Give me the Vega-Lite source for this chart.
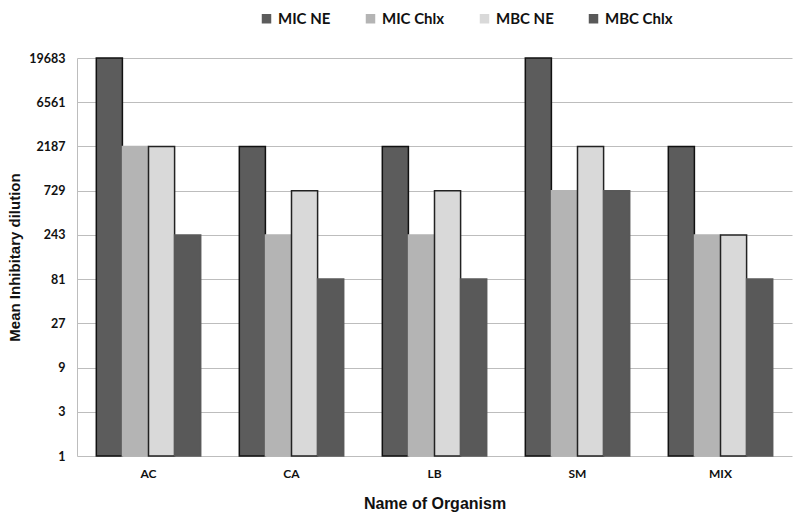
{
  "$schema": "https://vega.github.io/schema/vega-lite/v6.json",
  "width": 715,
  "height": 398,
  "padding": {"left": 7, "top": 11, "right": 5, "bottom": 5},
  "background": "white",
  "data": {
    "values": [
      {"organism": "AC", "series": "MIC NE", "value": 19683},
      {"organism": "AC", "series": "MIC Chlx", "value": 2187},
      {"organism": "AC", "series": "MBC NE", "value": 2187},
      {"organism": "AC", "series": "MBC Chlx", "value": 243},
      {"organism": "CA", "series": "MIC NE", "value": 2187},
      {"organism": "CA", "series": "MIC Chlx", "value": 243},
      {"organism": "CA", "series": "MBC NE", "value": 729},
      {"organism": "CA", "series": "MBC Chlx", "value": 81},
      {"organism": "LB", "series": "MIC NE", "value": 2187},
      {"organism": "LB", "series": "MIC Chlx", "value": 243},
      {"organism": "LB", "series": "MBC NE", "value": 729},
      {"organism": "LB", "series": "MBC Chlx", "value": 81},
      {"organism": "SM", "series": "MIC NE", "value": 19683},
      {"organism": "SM", "series": "MIC Chlx", "value": 729},
      {"organism": "SM", "series": "MBC NE", "value": 2187},
      {"organism": "SM", "series": "MBC Chlx", "value": 729},
      {"organism": "MIX", "series": "MIC NE", "value": 2187},
      {"organism": "MIX", "series": "MIC Chlx", "value": 243},
      {"organism": "MIX", "series": "MBC NE", "value": 243},
      {"organism": "MIX", "series": "MBC Chlx", "value": 81}
    ]
  },
  "mark": {"type": "bar", "strokeWidth": 1.5},
  "encoding": {
    "x": {
      "field": "organism",
      "type": "nominal",
      "sort": ["AC", "CA", "LB", "SM", "MIX"],
      "scale": {"paddingInner": 0.27, "paddingOuter": 0.135},
      "axis": {
        "title": "Name of Organism",
        "titleFont": "Liberation Sans",
        "titleFontSize": 16,
        "titleFontWeight": "bold",
        "titleColor": "#111",
        "titlePadding": 16,
        "labelFont": "Lato",
        "labelFontWeight": "bold",
        "labelFontSize": 12,
        "labelColor": "#111",
        "labelAngle": 0,
        "labelPadding": 12,
        "ticks": false,
        "domain": false
      }
    },
    "xOffset": {
      "field": "series",
      "type": "nominal",
      "sort": ["MIC NE", "MIC Chlx", "MBC NE", "MBC Chlx"],
      "scale": {"paddingInner": 0}
    },
    "y": {
      "field": "value",
      "type": "quantitative",
      "scale": {"type": "log", "base": 3, "domain": [1, 19683], "nice": false},
      "axis": {
        "title": "Mean Inhibitary dilution",
        "titleFont": "Liberation Sans",
        "titleFontSize": 15,
        "titleFontWeight": "bold",
        "titleColor": "#111",
        "titlePadding": 6,
        "labelFont": "Lato",
        "labelFontWeight": "bold",
        "labelFontSize": 12.5,
        "labelColor": "#111",
        "labelPadding": 12,
        "values": [1, 3, 9, 27, 81, 243, 729, 2187, 6561, 19683],
        "format": "d",
        "ticks": false,
        "grid": true,
        "gridColor": "#bdbdbd",
        "gridWidth": 1,
        "domain": true,
        "domainColor": "#bdbdbd"
      }
    },
    "y2": {"datum": 1},
    "color": {
      "field": "series",
      "type": "nominal",
      "sort": ["MIC NE", "MIC Chlx", "MBC NE", "MBC Chlx"],
      "scale": {
        "domain": ["MIC NE", "MIC Chlx", "MBC NE", "MBC Chlx"],
        "range": ["#5c5c5c", "#b4b4b4", "#d9d9d9", "#595959"]
      },
      "legend": {
        "title": null,
        "orient": "none",
        "legendX": 182,
        "legendY": -47,
        "direction": "horizontal",
        "symbolType": "square",
        "symbolSize": 90,
        "symbolStrokeWidth": 0,
        "labelFont": "Lato",
        "labelFontWeight": "bold",
        "labelFontSize": 15,
        "labelColor": "#111",
        "columnPadding": 32
      }
    },
    "stroke": {
      "field": "series",
      "type": "nominal",
      "scale": {
        "domain": ["MIC NE", "MIC Chlx", "MBC NE", "MBC Chlx"],
        "range": ["#111111", "#b4b4b4", "#222222", "#595959"]
      },
      "legend": null
    }
  },
  "config": {
    "view": {"stroke": null}
  }
}
